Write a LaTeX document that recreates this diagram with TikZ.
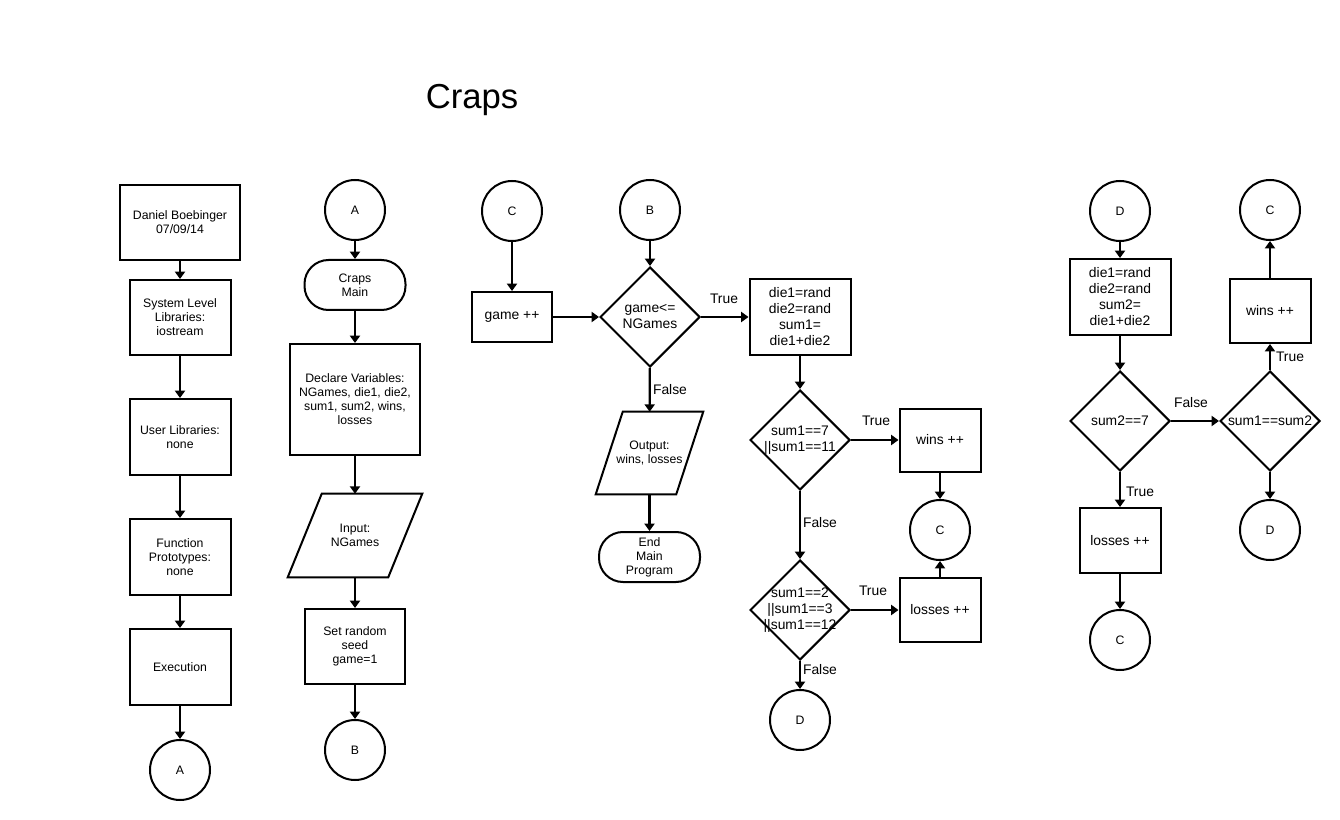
\documentclass[tikz,border=0pt]{standalone}
\usepackage{fontspec}
\setmainfont{Liberation Sans}
\usetikzlibrary{shapes.geometric,arrows.meta}
\begin{document}
\begin{tikzpicture}[x=0.75pt,y=-0.75pt,
 sm/.style={font=\fontsize{9.2}{10.5}\selectfont, align=center},
 lg/.style={font=\fontsize{10.4}{12}\selectfont, align=center},
 box/.style={draw, line width=1.5pt, rectangle, inner sep=0pt},
 con/.style={draw, circle, line width=1.5pt, minimum size=45pt, inner sep=0pt, sm},
 term/.style={draw, line width=1.5pt, rounded corners=18pt, minimum width=75.75pt, minimum height=37.5pt, inner sep=0pt, sm},
 dia/.style={draw, diamond, line width=1.5pt, minimum width=75pt, minimum height=75pt, inner sep=0pt},
 io/.style={inner sep=0pt, sm},
 para/.style={line width=1.5pt, line join=miter},
 arr/.style={-{Triangle[width=7.5pt,length=5.5pt]}, line width=1.6pt},
 lab/.style={lg, inner sep=0pt}
]
\useasboundingbox[fill=white] (0,0) rectangle (1340,820);

\node[font=\fontsize{26}{30}\selectfont] (title) at (472,100) {Craps};

% column 1
\node[box,sm,minimum width=90pt,minimum height=56.25pt] (dan) at (180,222.5) {Daniel Boebinger\\07/09/14};
\node[box,sm,minimum width=75.75pt,minimum height=56.25pt] (sys) at (180,317.5) {System Level\\Libraries:\\iostream};
\node[box,sm,minimum width=75.75pt,minimum height=57pt] (user) at (180,437) {User Libraries:\\none};
\node[box,sm,minimum width=75.75pt,minimum height=57pt] (func) at (180,557) {Function\\Prototypes:\\none};
\node[box,sm,minimum width=75.75pt,minimum height=57pt] (exec) at (180,667) {Execution};
\node[con] (a1) at (180,770) {A};
\draw[arr] (dan) -- (sys);
\draw[arr] (sys) -- (user);
\draw[arr] (user) -- (func);
\draw[arr] (func) -- (exec);
\draw[arr] (exec) -- (a1);

% column 2
\node[con] (a2) at (355,210) {A};
\node[term] (main) at (355,285) {Craps\\Main};
\node[box,sm,minimum width=97.5pt,minimum height=83.25pt] (decl) at (355,399.5) {Declare Variables:\\NGames, die1, die2,\\sum1, sum2, wins,\\losses};
\node[io,minimum width=100.5pt,minimum height=62.25pt] (in) at (355,535.5) {Input:\\NGames};
\draw[para] (in.south west) -- ([xshift=-25.5pt]in.south east) -- (in.north east) -- ([xshift=25.5pt]in.north west) -- cycle;
\node[box,sm,minimum width=75pt,minimum height=56.25pt] (seed) at (355,646.5) {Set random\\seed\\game=1};
\node[con] (b1) at (355,750) {B};
\draw[arr] (a2) -- (main);
\draw[arr] (main) -- (decl);
\draw[arr] (decl) -- (in);
\draw[arr] (in) -- (seed);
\draw[arr] (seed) -- (b1);

% column 3
\node[con] (c1) at (512,211) {C};
\node[box,lg,minimum width=60pt,minimum height=37.5pt] (game) at (512,317) {game ++};
\node[con] (b2) at (650,210) {B};
\node[dia] (gd) at (650,317) {};
\node[lg] (gdt) at (gd.center) {game<=\\NGames};
\node[box,lg,minimum width=75.75pt,minimum height=57pt] (die) at (800,317) {die1=rand\\die2=rand\\sum1=\\die1+die2};
\node[io,minimum width=80.25pt,minimum height=61.5pt] (out) at (649.5,453) {Output:\\wins, losses};
\draw[para] (out.south west) -- ([xshift=-20.25pt]out.south east) -- (out.north east) -- ([xshift=20.25pt]out.north west) -- cycle;
\node[term] (end) at (649.5,557) {End\\Main\\Program};
\draw[arr] (c1) -- (game);
\draw[arr] (game) -- (gd);
\draw[arr] (b2) -- (gd);
\draw[arr] (gd) -- (die);
\draw[arr] (gd) -- (out);
\draw[arr] (out) -- (end);
\node[lab] (t1) at (724,299) {True};
\node[lab] (f1) at (670,390) {False};

% column 4
\node[dia] (s7) at (800,440) {};
\node[lg] (s7t) at (s7.center) {sum1==7\\||sum1==11};
\node[box,lg,minimum width=60.75pt,minimum height=47.25pt] (wins) at (940,440) {wins ++};
\node[con] (c2) at (940,530) {C};
\node[dia] (s2) at (800,610) {};
\node[lg] (s2t) at (s2.center) {sum1==2\\||sum1==3\\||sum1==12};
\node[box,lg,minimum width=60.75pt,minimum height=48pt] (loss) at (940,610) {losses ++};
\node[con] (d1) at (800,720) {D};
\draw[arr] (die) -- (s7);
\draw[arr] (s7) -- (wins);
\draw[arr] (s7) -- (s2);
\draw[arr] (s2) -- (loss);
\draw[arr] (s2) -- (d1);
\draw[arr] (wins) -- (c2);
\draw[arr] (loss) -- (c2);
\node[lab] (t2) at (876,421) {True};
\node[lab] (f2) at (820,523) {False};
\node[lab] (t3) at (873,591) {True};
\node[lab] (f3) at (820,670) {False};

% column 5
\node[con] (d2) at (1120,211) {D};
\node[box,lg,minimum width=75.75pt,minimum height=57pt] (die2) at (1120,297) {die1=rand\\die2=rand\\sum2=\\die1+die2};
\node[dia] (s27) at (1120,421) {};
\node[lg] (s27t) at (s27.center) {sum2==7};
\node[box,lg,minimum width=60.75pt,minimum height=48.75pt] (loss2) at (1120,540.5) {losses ++};
\node[con] (c3) at (1120,640) {C};
\node[dia] (seq) at (1270,421) {};
\node[lg] (seqt) at (seq.center) {sum1==sum2};
\node[box,lg,minimum width=60.75pt,minimum height=48pt] (wins2) at (1270,311) {wins ++};
\node[con] (c4) at (1270,210) {C};
\node[con] (d3) at (1270,530) {D};
\draw[arr] (d2) -- (die2);
\draw[arr] (die2) -- (s27);
\draw[arr] (s27) -- (loss2);
\draw[arr] (loss2) -- (c3);
\draw[arr] (s27) -- (seq);
\draw[arr] (seq) -- (wins2);
\draw[arr] (wins2) -- (c4);
\draw[arr] (seq) -- (d3);
\node[lab] (f4) at (1191,403) {False};
\node[lab] (t4) at (1140,492) {True};
\node[lab] (t5) at (1290,357) {True};
\end{tikzpicture}
\end{document}
